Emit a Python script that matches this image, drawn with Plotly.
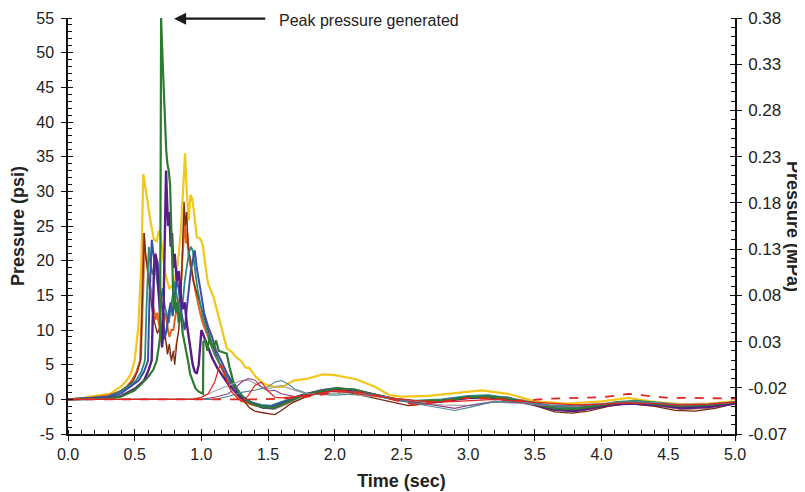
import plotly.graph_objects as go

# ---- data: (time in sec, pressure in psi) readings per gauge trace ----
yellow = [(0, 0), (0.1, 0.1), (0.165, 0.4), (0.25, 0.6), (0.315, 0.8), (0.4, 1.9), (0.44, 2.7), (0.47, 3.6),
          (0.5, 5.6), (0.527, 10.4), (0.55, 20), (0.565, 32.5), (0.58, 30.5), (0.6, 28), (0.62, 25.5),
          (0.645, 23), (0.665, 22.8), (0.68, 24.3), (0.695, 23.5), (0.71, 21), (0.73, 18), (0.76, 16),
          (0.79, 16.5), (0.82, 19), (0.845, 24), (0.865, 31), (0.877, 35.5), (0.89, 30), (0.905, 25.8),
          (0.918, 29.5), (0.93, 29), (0.945, 27), (0.965, 23.4), (0.99, 23.2), (1.01, 22.3), (1.03, 19.3),
          (1.05, 16.7), (1.09, 14.8), (1.12, 12.5), (1.16, 9.5), (1.19, 7.4), (1.23, 6.8), (1.26, 6.1),
          (1.3, 5.5), (1.33, 4.6), (1.36, 4.5), (1.41, 3.2), (1.46, 2.3), (1.54, 1.8), (1.61, 1.8),
          (1.69, 2.7), (1.8, 3.0), (1.91, 3.6), (2.0, 3.5), (2.16, 2.9), (2.3, 1.8), (2.41, 0.6),
          (2.5, 0.4), (2.7, 0.5), (2.9, 0.9), (3.1, 1.3), (3.3, 0.8), (3.5, -0.3), (3.75, -0.6),
          (4.0, -0.3), (4.2, 0.2), (4.4, -0.4), (4.6, -0.7), (4.8, -0.6), (5.0, -0.3)]

orange = [(0, 0), (0.2, 0.3), (0.3, 0.6), (0.39, 1.1), (0.44, 1.8), (0.477, 2.7), (0.51, 3.8), (0.54, 5.6),
          (0.555, 14), (0.567, 24), (0.58, 21), (0.595, 19.5), (0.61, 17), (0.625, 15.5), (0.64, 13),
          (0.655, 11.5), (0.67, 12.5), (0.685, 10.5), (0.7, 9.5), (0.715, 11), (0.73, 12.5), (0.745, 10.5),
          (0.76, 9), (0.775, 10), (0.79, 10), (0.805, 12), (0.82, 13.5), (0.84, 14.8), (0.855, 20),
          (0.868, 25), (0.877, 26.3), (0.885, 22.5), (0.895, 24), (0.91, 20), (0.93, 18), (0.95, 16.5),
          (0.97, 14.5), (0.99, 12.5), (1.01, 11), (1.04, 9.5), (1.07, 8), (1.1, 6.5), (1.14, 5),
          (1.18, 3.2), (1.22, 2), (1.26, 0.8), (1.3, -0.2), (1.38, -0.8), (1.46, -1.1), (1.55, -1.2),
          (1.62, -0.6), (1.75, 0.6), (1.9, 1.3), (2.02, 1.6), (2.15, 1.3), (2.3, 0.6), (2.45, 0.0),
          (2.6, -0.3), (2.8, -0.1), (3.0, 0.4), (3.15, 0.5), (3.3, 0.1), (3.5, -0.6), (3.7, -1.5),
          (3.8, -1.6), (3.95, -1.2), (4.1, -0.6), (4.25, -0.5), (4.45, -0.9), (4.6, -1.2), (4.75, -1.1),
          (4.9, -0.7), (5.0, -0.5)]

brown = [(0, 0), (0.3, 0.4), (0.4, 1.3), (0.45, 2.0), (0.49, 2.7), (0.52, 4), (0.545, 5.6), (0.56, 15),
         (0.572, 24), (0.58, 21), (0.595, 19), (0.61, 16), (0.63, 13), (0.65, 11), (0.67, 9.5), (0.69, 10.5),
         (0.71, 8.5), (0.73, 9), (0.745, 6.5), (0.76, 8), (0.775, 5.5), (0.79, 7), (0.8, 5), (0.815, 8),
         (0.83, 10), (0.845, 14), (0.86, 22), (0.87, 28.5), (0.88, 25), (0.89, 27), (0.9, 22), (0.92, 20),
         (0.94, 17), (0.97, 15), (1.0, 13), (1.04, 10.5), (1.08, 8), (1.12, 6), (1.16, 4.2), (1.2, 3),
         (1.24, 2), (1.28, 0.8), (1.32, -0.3), (1.36, -1.2), (1.4, -1.7), (1.45, -1.9), (1.5, -2.1),
         (1.55, -2.2), (1.6, -1.6), (1.68, -0.5), (1.8, 0.5), (1.95, 1.2), (2.1, 1.0), (2.3, 0.2),
         (2.45, -0.5), (2.55, -0.9), (2.7, -0.6), (2.9, 0.0), (3.1, 0.5), (3.3, 0.3), (3.5, -0.9),
         (3.65, -1.8), (3.78, -2.0), (3.9, -1.7), (4.05, -1.0), (4.2, -0.6), (4.4, -1.0), (4.55, -1.6),
         (4.7, -1.7), (4.85, -1.3), (5.0, -0.6)]

tan = [(0, 0), (0.3, 0.3), (0.45, 1.8), (0.5, 3), (0.55, 6), (0.565, 16), (0.578, 22), (0.59, 19), (0.61, 17),
       (0.63, 14), (0.66, 12), (0.7, 10), (0.74, 8), (0.77, 6), (0.8, 7), (0.83, 10), (0.85, 16), (0.865, 25),
       (0.875, 27), (0.885, 24), (0.9, 21), (0.93, 18), (0.96, 15), (1.0, 12), (1.05, 9), (1.1, 6.5),
       (1.15, 4.5), (1.2, 3), (1.25, 1.8), (1.3, 0.6), (1.35, -0.4), (1.45, -1.2), (1.55, -1.4),
       (1.65, -0.6), (1.8, 0.5), (2.0, 1.3), (2.2, 1.0), (2.4, 0.1), (2.6, -0.6), (2.8, -0.3), (3.0, 0.3),
       (3.2, 0.3), (3.4, -0.4), (3.6, -1.4), (3.8, -1.8), (4.0, -1.1), (4.2, -0.6), (4.4, -0.9),
       (4.6, -1.5), (4.8, -1.3), (5.0, -0.6)]

blue = [(0, 0), (0.3, 0.3), (0.4, 0.9), (0.47, 1.8), (0.53, 2.7), (0.57, 4), (0.6, 5.6), (0.61, 14),
        (0.62, 21), (0.628, 23), (0.64, 21), (0.655, 19), (0.67, 20), (0.685, 17), (0.7, 15), (0.715, 12),
        (0.727, 9), (0.74, 10), (0.755, 12.5), (0.77, 14), (0.785, 12), (0.8, 15), (0.815, 17), (0.83, 16),
        (0.845, 13), (0.86, 11.5), (0.875, 10), (0.89, 13), (0.905, 16), (0.92, 18.5), (0.935, 20),
        (0.95, 21.5), (0.965, 19), (0.98, 17), (1.0, 15), (1.02, 12.5), (1.05, 10.5), (1.08, 9), (1.11, 7),
        (1.15, 5.5), (1.19, 3.8), (1.23, 2.5), (1.27, 1.4), (1.31, 0.4), (1.38, -0.5), (1.45, -1.0),
        (1.52, -1.1), (1.6, -0.5), (1.75, 0.6), (1.9, 1.3), (2.0, 1.6), (2.15, 1.4), (2.3, 0.7),
        (2.45, 0.0), (2.6, -0.3), (2.8, -0.2), (3.0, 0.3), (3.15, 0.4), (3.3, 0.0), (3.5, -0.7),
        (3.65, -1.3), (3.8, -1.5), (3.95, -1.1), (4.1, -0.6), (4.25, -0.5), (4.45, -0.8), (4.6, -1.1),
        (4.8, -0.9), (5.0, -0.5)]

teal = [(0, 0), (0.3, 0.4), (0.4, 1.2), (0.45, 1.9), (0.51, 2.7), (0.55, 4), (0.577, 5.6), (0.588, 13),
        (0.598, 20), (0.606, 22), (0.62, 19), (0.635, 18), (0.65, 20), (0.665, 17), (0.68, 15), (0.695, 14),
        (0.71, 16), (0.725, 13.5), (0.74, 12), (0.755, 11), (0.77, 13), (0.785, 15), (0.8, 17), (0.815, 15),
        (0.83, 13), (0.845, 12), (0.86, 14), (0.875, 17), (0.89, 19), (0.905, 21), (0.92, 22),
        (0.935, 21.5), (0.95, 19), (0.97, 16), (0.99, 14), (1.01, 12), (1.04, 10), (1.07, 8), (1.1, 6.5),
        (1.14, 5), (1.18, 3.5), (1.22, 2.2), (1.26, 1.2), (1.3, 0.3), (1.37, -0.4), (1.45, -0.8),
        (1.52, -0.9), (1.6, -0.4), (1.75, 0.6), (1.9, 1.2), (2.02, 1.5), (2.15, 1.3), (2.3, 0.7),
        (2.45, 0.1), (2.6, -0.2), (2.8, 0.0), (3.0, 0.5), (3.15, 0.6), (3.3, 0.2), (3.5, -0.5),
        (3.65, -1.0), (3.8, -1.2), (3.95, -0.9), (4.1, -0.4), (4.25, -0.2), (4.45, -0.5), (4.6, -0.9),
        (4.8, -0.8), (5.0, -0.5)]

purple = [(0, 0), (0.3, 0.1), (0.4, 0.5), (0.5, 1.5), (0.57, 2.7), (0.6, 4), (0.627, 5.6), (0.635, 12),
          (0.645, 19), (0.655, 21), (0.665, 20), (0.675, 17), (0.685, 14), (0.695, 10), (0.705, 7.5),
          (0.712, 9), (0.72, 16), (0.727, 24), (0.735, 33), (0.742, 29), (0.75, 25), (0.76, 27), (0.77, 22),
          (0.78, 24), (0.79, 19), (0.8, 21), (0.815, 17), (0.83, 18.5), (0.845, 15), (0.86, 13),
          (0.875, 14), (0.89, 11), (0.905, 9), (0.92, 6.5), (0.935, 5), (0.95, 4), (0.965, 3.7), (0.98, 5),
          (0.99, 8), (1.0, 10), (1.02, 9), (1.05, 7.5), (1.08, 6), (1.12, 4.5), (1.16, 3.3), (1.2, 2.2),
          (1.25, 1.2), (1.3, 0.2), (1.38, -0.6), (1.46, -1.2), (1.54, -1.3), (1.62, -0.6), (1.75, 0.5),
          (1.9, 1.2), (2.02, 1.5), (2.15, 1.3), (2.3, 0.6), (2.45, 0.0), (2.6, -0.4), (2.8, -0.3),
          (3.0, 0.2), (3.15, 0.3), (3.3, -0.1), (3.5, -0.8), (3.65, -1.5), (3.8, -1.7), (3.95, -1.2),
          (4.1, -0.7), (4.25, -0.6), (4.45, -0.9), (4.6, -1.3), (4.8, -1.1), (5.0, -0.6)]

green = [(0, 0), (0.3, 0.1), (0.4, 0.4), (0.5, 1.3), (0.55, 2.2), (0.6, 3.2), (0.64, 4.3), (0.665, 5.6),
         (0.68, 7.5), (0.69, 9), (0.694, 30), (0.698, 55), (0.705, 51), (0.712, 48), (0.718, 45.5),
         (0.724, 43), (0.73, 38), (0.736, 36), (0.745, 34), (0.755, 33), (0.765, 31), (0.772, 27),
         (0.778, 22), (0.785, 17), (0.792, 13), (0.8, 15), (0.81, 12.5), (0.82, 14), (0.83, 11),
         (0.845, 12.5), (0.86, 9.5), (0.875, 8), (0.89, 6.6), (0.905, 5), (0.915, 3.7), (0.935, 2.7),
         (0.955, 1.6), (0.98, 1.1), (1.0, 0.9), (1.012, 0.8), (1.015, 8.3), (1.03, 8.5), (1.045, 7),
         (1.06, 9), (1.075, 8), (1.09, 7.5), (1.11, 8.5), (1.13, 7), (1.16, 6.8), (1.19, 6.6), (1.21, 4.7),
         (1.24, 2.5), (1.28, 1.0), (1.33, 0.0), (1.4, -0.8), (1.48, -1.2), (1.55, -1.2), (1.62, -0.6),
         (1.75, 0.5), (1.9, 1.2), (2.02, 1.6), (2.15, 1.4), (2.3, 0.6), (2.45, 0.0), (2.6, -0.3),
         (2.8, -0.2), (3.0, 0.3), (3.15, 0.4), (3.3, 0.0), (3.5, -0.7), (3.65, -1.3), (3.8, -1.4),
         (3.95, -1.0), (4.1, -0.5), (4.25, -0.4), (4.45, -0.7), (4.6, -1.0), (4.8, -0.8), (5.0, -0.4)]

gray = [(0, 0), (0.9, 0), (1.0, 0.3), (1.05, 0.8), (1.1, 1.2), (1.15, 1.6), (1.2, 2.0), (1.25, 2.4),
        (1.3, 2.7), (1.35, 2.8), (1.4, 2.3), (1.45, 1.8), (1.5, 1.5), (1.55, 1.7), (1.6, 2.0), (1.7, 1.3),
        (1.8, 0.8), (2.0, 0.9), (2.2, 0.6), (2.4, 0.2), (2.6, -0.3), (2.8, -0.8), (3.0, -0.9), (3.2, -0.4),
        (3.4, -0.6), (3.6, -0.9), (3.8, -0.8), (4.0, -0.6), (4.2, -0.4), (4.4, -0.5), (4.6, -0.7),
        (4.8, -0.6), (5.0, -0.4)]

red = [(0, 0), (0.95, 0), (1.0, 0.3), (1.05, 0.8), (1.1, 2.5), (1.13, 4.5), (1.15, 5.0), (1.17, 4.0),
       (1.2, 2.0), (1.23, 1.0), (1.27, 0.2), (1.3, -0.3), (1.35, 0.5), (1.4, 2.0), (1.45, 2.5), (1.5, 1.2),
       (1.55, 0.3), (1.6, 0.2), (1.7, 0.4), (1.8, 0.6), (1.9, 0.9), (2.0, 1.3), (2.1, 1.1), (2.2, 0.7),
       (2.4, 0.2), (2.6, -0.2), (2.8, -0.4), (3.0, -0.2), (3.2, 0.0), (3.4, -0.3), (3.6, -0.6),
       (3.8, -0.8), (4.0, -0.7), (4.2, -0.5), (4.4, -0.6), (4.6, -0.8), (4.8, -0.7), (5.0, -0.4)]

red_dashed = [(0, 0), (1.0, 0), (1.2, -0.1), (1.4, 0.0), (1.6, 0.1), (1.8, 0.4), (2.0, 1.0), (2.1, 1.3),
              (2.3, 0.6), (2.5, -0.4), (2.6, -0.8), (2.8, -0.3), (3.0, 0.2), (3.2, 0.1), (3.4, -0.2),
              (3.6, 0.1), (3.8, 0.2), (4.0, 0.3), (4.1, 0.5), (4.2, 0.8), (4.3, 0.6), (4.5, 0.2),
              (4.7, 0.2), (5.0, 0.1)]

mauve = [(0, 0), (1.0, 0), (1.1, 0.3), (1.2, 0.8), (1.25, 1.5), (1.3, 2.5), (1.35, 3.0), (1.4, 2.8),
         (1.45, 1.8), (1.5, 1.2), (1.55, 1.3), (1.6, 0.8), (1.7, 0.4), (1.8, 0.6), (2.0, 1.2), (2.2, 1.0),
         (2.4, 0.2), (2.6, -0.4), (2.8, -1.0), (2.9, -1.3), (3.0, -0.9), (3.2, -0.3), (3.4, -0.5),
         (3.6, -0.9), (3.8, -1.0), (4.0, -0.7), (4.2, -0.4), (4.4, -0.6), (4.6, -0.9), (4.8, -0.7),
         (5.0, -0.4)]

dark_teal = [(0, 0), (1.1, 0), (1.2, 0.4), (1.3, 1.0), (1.4, 1.3), (1.5, 1.8), (1.55, 2.5), (1.6, 2.7),
             (1.65, 2.2), (1.7, 1.5), (1.8, 0.8), (2.0, 0.6), (2.2, 0.8), (2.4, 0.3), (2.6, -0.6),
             (2.8, -1.3), (2.9, -1.6), (3.0, -1.2), (3.2, -0.3), (3.4, -0.4), (3.6, -0.8), (3.8, -0.9),
             (4.0, -0.7), (4.2, -0.4), (4.4, -0.5), (4.6, -0.8), (4.8, -0.7), (5.0, -0.4)]

x_ticks = [0.0, 0.5, 1.0, 1.5, 2.0, 2.5, 3.0, 3.5, 4.0, 4.5, 5.0]
x_labels = ["0.0", "0.5", "1.0", "1.5", "2.0", "2.5", "3.0", "3.5", "4.0", "4.5", "5.0"]
psi_ticks = [-5, 0, 5, 10, 15, 20, 25, 30, 35, 40, 45, 50, 55]
psi_labels = ["-5", "0", "5", "10", "15", "20", "25", "30", "35", "40", "45", "50", "55"]
mpa_ticks = [-0.07, -0.02, 0.03, 0.08, 0.13, 0.18, 0.23, 0.28, 0.33, 0.38]
mpa_labels = ["-0.07", "-0.02", "0.03", "0.08", "0.13", "0.18", "0.23", "0.28", "0.33", "0.38"]

peak_label = "Peak pressure generated"

# ---- styles ----
series = [
    (yellow, "#F2C71B", 2.2, "solid"),
    (tan, "#C99270", 1.2, "solid"),
    (orange, "#E5641D", 2.0, "solid"),
    (brown, "#7A2A12", 1.3, "solid"),
    (teal, "#2E8A7C", 1.8, "solid"),
    (blue, "#3A4EAA", 2.0, "solid"),
    (purple, "#5A1C86", 2.4, "solid"),
    (green, "#2E7A31", 2.2, "solid"),
    (gray, "#A3A3A3", 1.2, "solid"),
    (mauve, "#8E3C7E", 1.1, "solid"),
    (dark_teal, "#4A8990", 1.1, "solid"),
    (red, "#E3261E", 1.2, "solid"),
    (red_dashed, "#E3261E", 1.8, "dash"),
]

fig = go.Figure()
for pts, col, w, dash in series:
    fig.add_trace(go.Scatter(x=[p[0] for p in pts], y=[p[1] for p in pts], mode="lines",
                             line=dict(color=col, width=w, dash=dash), showlegend=False,
                             hoverinfo="skip"))

# dummy traces so overlay axes (used for the inward half of crossing ticks) render
for xa, ya in [("x2", "y"), ("x", "y2"), ("x", "y3"), ("x", "y4")]:
    fig.add_trace(go.Scatter(x=[None], y=[None], xaxis=xa, yaxis=ya, showlegend=False,
                             hoverinfo="skip"))

font_main = "Liberation Sans, Arial, sans-serif"
axcol = "#111111"

common = dict(showgrid=False, zeroline=False, tickcolor=axcol, tickwidth=1.2, automargin=False)

# the page body adds an 8px offset, so margins are shifted to compensate
fig.update_layout(
    width=805, height=492,
    margin=dict(l=60, r=78, t=10, b=66),
    paper_bgcolor="white", plot_bgcolor="white",
    font=dict(family=font_main, color="#222222", size=16),
    xaxis=dict(range=[0, 5], tickmode="array", tickvals=x_ticks, ticktext=x_labels,
               ticks="outside", ticklen=5, showline=True, linecolor=axcol, linewidth=1.5,
               minor=dict(dtick=0.1, tick0=0, ticks="inside", ticklen=4, tickcolor=axcol, tickwidth=1),
               title=dict(text="<b>Time (sec)</b>", font=dict(size=18, color="#222222"), standoff=12),
               tickfont=dict(size=16), **common),
    xaxis2=dict(range=[0, 5], overlaying="x", anchor="y", tickmode="array", tickvals=x_ticks,
                ticks="inside", ticklen=5, showticklabels=False, showline=False, **common),
    yaxis=dict(range=[-5, 55], tickmode="array", tickvals=psi_ticks, ticktext=psi_labels,
               ticks="outside", ticklen=5,
               showline=True, linecolor=axcol, linewidth=1.5, ticklabelstandoff=4,
               minor=dict(dtick=1, tick0=0, ticks="inside", ticklen=4, tickcolor=axcol, tickwidth=1),
               title=dict(text="<b>Pressure (psi)</b>", font=dict(size=18, color="#222222"), standoff=8),
               tickfont=dict(size=16), **common),
    yaxis2=dict(range=[-0.07, 0.38], overlaying="y", side="right", anchor="x", tickmode="array",
                tickvals=mpa_ticks, ticktext=mpa_labels, ticks="outside", ticklen=5,
                showline=True, linecolor=axcol, linewidth=1.5, ticklabelstandoff=3,
                minor=dict(dtick=0.01, tick0=-0.07, ticks="inside", ticklen=4, tickcolor=axcol, tickwidth=1),
                tickfont=dict(size=17), **common),
    yaxis3=dict(range=[-5, 55], overlaying="y", anchor="x", tickmode="array", tickvals=psi_ticks,
                ticks="inside", ticklen=5, showticklabels=False, showline=False, **common),
    yaxis4=dict(range=[-0.07, 0.38], overlaying="y", side="right", anchor="x", tickmode="array",
                tickvals=mpa_ticks, ticks="inside", ticklen=5, showticklabels=False, showline=False, **common),
)

# right axis title reads top-to-bottom
fig.add_annotation(xref="paper", yref="paper", x=1.0, y=0.5, xshift=58, text="<b>Pressure (MPa)</b>",
                   textangle=90, showarrow=False, font=dict(size=18, color="#222222"),
                   xanchor="center", yanchor="middle")

# peak arrow + label
fig.add_annotation(x=0.795, y=54.9, ax=1.49, ay=54.9, xref="x", yref="y", axref="x", ayref="y",
                   text="", showarrow=True, arrowhead=2, arrowsize=1.1, arrowwidth=2.2, arrowcolor="#1a1a1a")
fig.add_annotation(x=1.567, y=54.7, xref="x", yref="y", text=peak_label, showarrow=False,
                   xanchor="left", yanchor="middle", font=dict(size=16, color="#222222"))

fig.write_html("out.html")
